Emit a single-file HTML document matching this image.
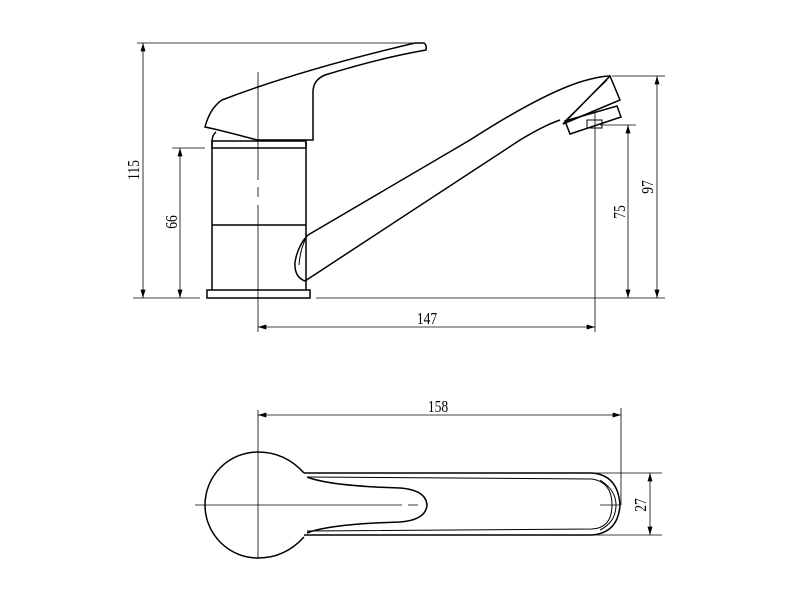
<!DOCTYPE html>
<html><head><meta charset="utf-8"><style>
html,body{margin:0;padding:0;background:#fff;}
svg{display:block;}
text{font-family:"Liberation Serif",serif;font-size:17px;fill:#000;}
</style></head><body>
<svg width="800" height="600" viewBox="0 0 800 600" xmlns="http://www.w3.org/2000/svg">
<defs>
<marker id="a" viewBox="0 0 10 6" refX="10" refY="3" markerWidth="12" markerHeight="5" orient="auto-start-reverse" markerUnits="userSpaceOnUse"><path d="M0,0 L10,3 L0,6 Z" fill="#000"/></marker>
</defs>
<g fill="none" stroke="#000" stroke-width="1">
<line x1="137" y1="43" x2="420" y2="43" stroke-width="0.8"/>
<line x1="133" y1="298" x2="200" y2="298" stroke-width="0.8"/>
<line x1="316" y1="298" x2="665" y2="298" stroke-width="0.8"/>
<line x1="172" y1="148" x2="205" y2="148" stroke-width="0.8"/>
<line x1="612" y1="76" x2="665" y2="76" stroke-width="0.8"/>
<line x1="600" y1="125" x2="636" y2="125" stroke-width="0.8"/>
<line x1="595" y1="112" x2="595" y2="332" stroke-width="0.8"/>
<line x1="258" y1="72" x2="258" y2="180" stroke-width="0.8"/>
<line x1="258" y1="187" x2="258" y2="197" stroke-width="0.8"/>
<line x1="258" y1="205" x2="258" y2="332" stroke-width="0.8"/>
<line x1="143" y1="43" x2="143" y2="298" marker-start="url(#a)" marker-end="url(#a)" stroke-width="0.8"/>
<line x1="180" y1="148" x2="180" y2="298" marker-start="url(#a)" marker-end="url(#a)" stroke-width="0.8"/>
<line x1="628" y1="125" x2="628" y2="298" marker-start="url(#a)" marker-end="url(#a)" stroke-width="0.8"/>
<line x1="657" y1="76" x2="657" y2="298" marker-start="url(#a)" marker-end="url(#a)" stroke-width="0.8"/>
<line x1="258" y1="327" x2="595" y2="327" marker-start="url(#a)" marker-end="url(#a)" stroke-width="0.8"/>
<path d="M205,127 Q210,108 222,100 Q300,70 415,43 L424,43 Q427,45 426,50 Q380,58 325,75 Q313,80 313,92 L313,140 L257,140 Q220,130 205,127 Z" stroke-width="1.5"/>
<path d="M212,290 L212,142 Q212,135 216,132" stroke-width="1.5"/>
<path d="M306,290 L306,142" stroke-width="1.5"/>
<rect x="212" y="141" width="94" height="7" stroke-width="1.5"/>
<line x1="212" y1="225" x2="306" y2="225" stroke-width="1.5"/>
<rect x="207" y="290" width="103" height="8" stroke-width="1.5"/>
<path d="M308,235 L470,140 Q540,95 580,82 Q600,76 610,76" stroke-width="1.5"/>
<path d="M305,281 L520,140 Q545,125 560,120" stroke-width="1.5"/>
<path d="M308,235 Q298,245 295,262 Q294,277 305,281" stroke-width="1.5"/>
<path d="M306,238 Q300,250 299,265" stroke-width="1"/>
<path d="M610,76 L620,100 L563,124 Z" stroke-width="1.5"/>
<path d="M607,80 L565,121" stroke-width="1"/>
<path d="M565,121 L617,106 L621,117 L570,134 Z" stroke-width="1.5"/>
<rect x="587" y="120" width="15" height="8" stroke-width="1"/>
<line x1="258" y1="410" x2="258" y2="558" stroke-width="0.8"/>
<line x1="621" y1="408" x2="621" y2="505" stroke-width="0.8"/>
<line x1="258" y1="415" x2="621" y2="415" marker-start="url(#a)" marker-end="url(#a)" stroke-width="0.8"/>
<line x1="195" y1="505" x2="402" y2="505" stroke-width="0.8"/>
<line x1="408" y1="505" x2="418" y2="505" stroke-width="0.8"/>
<line x1="600" y1="505" x2="620" y2="505" stroke-width="0.8"/>
<line x1="590" y1="473" x2="662" y2="473" stroke-width="0.8"/>
<line x1="590" y1="535" x2="662" y2="535" stroke-width="0.8"/>
<line x1="650" y1="473" x2="650" y2="535" marker-start="url(#a)" marker-end="url(#a)" stroke-width="0.8"/>
<path d="M304,473 Q285,452 258,452 A53,53 0 0 0 258,558 Q285,558 304,537" stroke-width="1.5"/>
<path d="M304,473 L592,473 Q618,475 620,505 Q618,533 592,535 L304,535" stroke-width="1.5"/>
<path d="M307,477 L592,479 Q612,482 612,505 Q612,528 592,529 L307,531" stroke-width="1"/>
<path d="M600,480 Q616,490 616,505 Q616,522 600,530" stroke-width="1"/>
<path d="M307,477 Q330,486 400,488 Q426,490 427,505 Q426,520 400,522 Q330,524 307,533" stroke-width="1.5"/>
</g>
<text transform="translate(139,170) rotate(-90) scale(0.8,1)" text-anchor="middle">115</text>
<text transform="translate(177,222) rotate(-90) scale(0.8,1)" text-anchor="middle">66</text>
<text transform="translate(625,212) rotate(-90) scale(0.8,1)" text-anchor="middle">75</text>
<text transform="translate(653,187) rotate(-90) scale(0.8,1)" text-anchor="middle">97</text>
<text transform="translate(427,324) scale(0.8,1)" text-anchor="middle">147</text>
<text transform="translate(438,412) scale(0.8,1)" text-anchor="middle">158</text>
<text transform="translate(646,505) rotate(-90) scale(0.8,1)" text-anchor="middle">27</text>
</svg>
</body></html>
